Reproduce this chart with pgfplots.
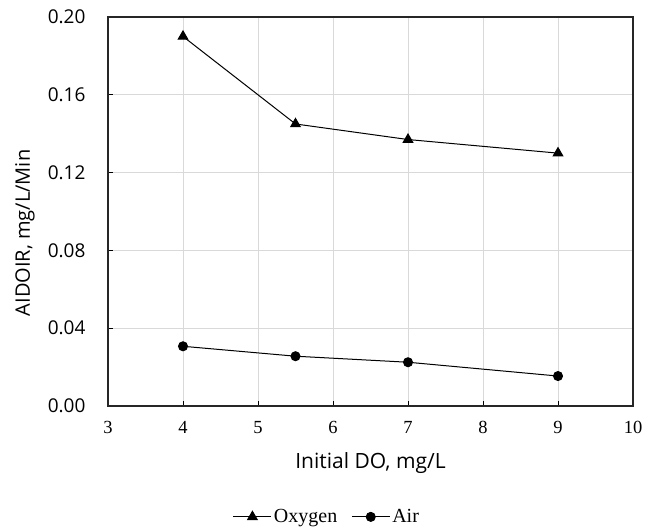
\documentclass[border=0pt]{standalone}
\usepackage{fontspec}
\setmainfont{Open Sans}
\newfontfamily\seriffont{Liberation Serif}
\usepackage{pgfplots}
\pgfplotsset{compat=1.18}
\begin{document}
\begin{tikzpicture}
\useasboundingbox (-108pt,-121pt) rectangle (550pt,406pt);
\begin{axis}[
  at={(0,0)}, anchor=south west,
  scale only axis, width=525pt, height=389pt,
  xmin=3, xmax=10, ymin=0, ymax=0.20,
  xtick={3,4,...,10},
  ytick={0,0.04,0.08,0.12,0.16,0.20},
  /pgf/number format/assume math mode=true,
  yticklabel style={/pgf/number format/fixed,/pgf/number format/fixed zerofill,/pgf/number format/precision=2,font=\fontsize{19}{22}\selectfont, xshift=-19pt},
  xticklabel style={font=\seriffont\fontsize{18.5}{22}\selectfont, yshift=-12pt},
  scaled y ticks=false,
  tick align=inside, xtick pos=bottom, ytick pos=left,
  major tick length=5pt,
  tick style={black, line width=0.9pt},
  axis line style={black!85, line width=1.2pt},
  grid=major, grid style={black!15, line width=1pt},
  xlabel={Initial DO, mg/L}, ylabel={AIDOIR, mg/L/Min},
  every axis x label/.style={at={(axis description cs:0.5,0)}, anchor=center, yshift=-57pt, font=\fontsize{21}{25}\selectfont},
  every axis y label/.style={at={(axis description cs:0,0.445)}, anchor=center, rotate=90, yshift=83pt, font=\fontsize{20}{24}\selectfont},
  legend style={draw=none, at={(0.417,-0.285)}, anchor=center, font=\seriffont\fontsize{20}{24}\selectfont, /tikz/every even column/.append style={column sep=12pt}},
  legend columns=2,
  legend image code/.code={\draw[#1] (-0pt,0pt) -- (38pt,0pt); \path[#1] plot coordinates {(19pt,0pt)};},
]
\addplot[black, line width=1pt, mark=triangle*, mark size=5.5pt, mark options={solid}] coordinates {(4,0.190) (5.5,0.145) (7,0.137) (9,0.130)};
\addlegendentry{Oxygen}
\addplot[black, line width=1pt, mark=*, mark size=4.5pt] coordinates {(4,0.0307) (5.5,0.0256) (7,0.0225) (9,0.0154)};
\addlegendentry{Air}
\end{axis}
\end{tikzpicture}
\end{document}
